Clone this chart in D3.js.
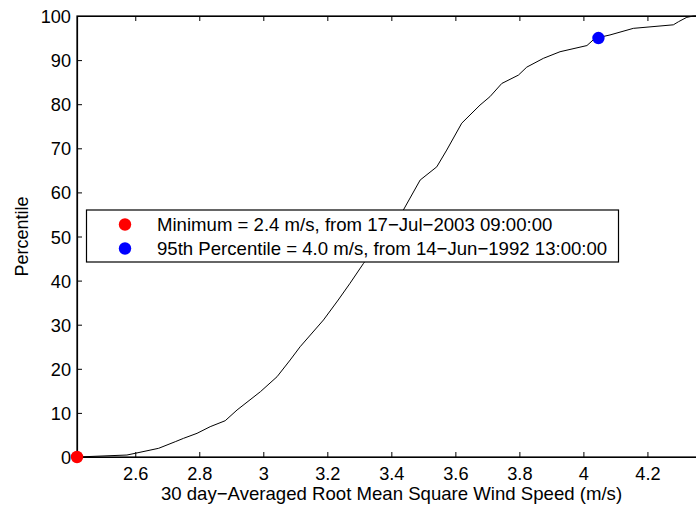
<!DOCTYPE html>
<html>
<head>
<meta charset="utf-8">
<script src="https://cdn.jsdelivr.net/npm/d3@7"></script>
<style>
  html, body { margin: 0; padding: 0; background: #fff; }
  svg { display: block; font-family: "Liberation Sans", Arial, Helvetica, sans-serif; }
</style>
</head>
<body>
<svg id="chart" width="696" height="506"></svg>
<script>
// Cumulative distribution of 30-day averaged RMS wind speed
const speed = [2.418, 2.574, 2.600, 2.673, 2.725, 2.751, 2.793, 2.834, 2.881, 2.918,
  2.991, 3.043, 3.084, 3.115, 3.188, 3.234, 3.271, 3.313, 3.4375, 3.490,
  3.542, 3.573, 3.620, 3.677, 3.708, 3.745, 3.797, 3.823, 3.875, 3.927, 4.011,
  4.031, 4.047, 4.083, 4.156, 4.281, 4.297, 4.323, 4.344, 4.358];
const percentile = [0, 0.45, 0.84, 1.97, 3.47, 4.24, 5.37, 6.87, 8.23, 10.66,
  14.81, 18.21, 22.0, 25.0, 31.07, 35.6, 39.4, 43.9, 56.0, 62.8,
  65.8, 69.6, 75.7, 79.8, 81.7, 84.7, 86.6, 88.4, 90.4, 91.9, 93.3,
  94.6, 95.1, 95.7, 97.2, 98.0, 98.7, 99.7, 100, 100];

const xTicks = [2.6, 2.8, 3, 3.2, 3.4, 3.6, 3.8, 4, 4.2];
const yTicks = [0, 10, 20, 30, 40, 50, 60, 70, 80, 90, 100];

// Highlighted points: minimum and 95th percentile
const markerNames = ["Minimum", "95th Percentile"];
const markerSpeed = [2.418, 4.047];
const markerPct = [0, 95];
const markerDates = ["17\u2212Jul\u22122003 09:00:00", "14\u2212Jun\u22121992 13:00:00"];
const markerColors = ["#ff0000", "#0000ff"];

const xLabel = "30 day\u2212Averaged Root Mean Square Wind Speed (m/s)";
const yLabel = "Percentile";

const svg = d3.select("#chart");
const box = { left: 77, top: 16, right: 698, bottom: 457 };

const x = d3.scaleLinear().domain([2.418, 4.358]).range([box.left, box.right]);
const y = d3.scaleLinear().domain([0, 100]).range([box.bottom, box.top]);

const tickFont = 18.2;
const labelFont = 18.6;
const tickLen = 5;

// Plot box
svg.append("rect")
  .attr("x", box.left).attr("y", box.top)
  .attr("width", box.right - box.left).attr("height", box.bottom - box.top)
  .attr("fill", "none").attr("stroke", "#000").attr("stroke-width", 1.2);

// Axes with inward ticks
const axisBottomG = svg.append("g").attr("transform", `translate(0,${box.bottom})`)
  .call(d3.axisBottom(x).tickValues(xTicks).tickSizeInner(-tickLen).tickSizeOuter(0)
    .tickPadding(10).tickFormat(d3.format("")));
const axisTopG = svg.append("g").attr("transform", `translate(0,${box.top})`)
  .call(d3.axisTop(x).tickValues(xTicks).tickSizeInner(-tickLen).tickSizeOuter(0).tickFormat(""));
const axisLeftG = svg.append("g").attr("transform", `translate(${box.left},0)`)
  .call(d3.axisLeft(y).tickValues(yTicks).tickSizeInner(-tickLen).tickSizeOuter(0)
    .tickPadding(tickLen + 1).tickFormat(d3.format("")));

[axisBottomG, axisTopG, axisLeftG].forEach(g => {
  g.select(".domain").attr("stroke", "#000").attr("stroke-width", 1.2);
  g.selectAll(".tick line").attr("stroke", "#000").attr("stroke-width", 1);
  g.selectAll("text").attr("font-size", tickFont).attr("fill", "#000")
    .attr("font-family", "'Liberation Sans', Arial, sans-serif");
});
axisLeftG.selectAll("text").attr("dy", "0.36em");

// CDF curve
const line = d3.line().x((d, i) => x(speed[i])).y((d, i) => y(percentile[i]));
svg.append("path")
  .datum(speed)
  .attr("d", line)
  .attr("fill", "none").attr("stroke", "#000").attr("stroke-width", 1);

// Highlighted points
svg.selectAll("circle.marker")
  .data(markerSpeed)
  .join("circle")
  .attr("class", "marker")
  .attr("cx", d => x(d))
  .attr("cy", (d, i) => y(markerPct[i]))
  .attr("r", 6.2)
  .attr("fill", (d, i) => markerColors[i]);

// Axis labels
svg.append("text")
  .attr("x", 391.5).attr("y", 500)
  .attr("text-anchor", "middle").attr("font-size", labelFont)
  .text(xLabel);
svg.append("text")
  .attr("transform", `translate(28,${(box.top + box.bottom) / 2}) rotate(-90)`)
  .attr("text-anchor", "middle").attr("font-size", 18)
  .text(yLabel);

// Legend
const fmt = d3.format(".1f");
const legend = svg.append("g");
legend.append("rect")
  .attr("x", 86.5).attr("y", 210).attr("width", 532).attr("height", 52)
  .attr("fill", "#fff").attr("stroke", "#000").attr("stroke-width", 1.2);
markerNames.forEach((name, i) => {
  const cy = 224.5 + i * 24;
  legend.append("circle").attr("cx", 125).attr("cy", cy).attr("r", 6.2)
    .attr("fill", markerColors[i]);
  legend.append("text").attr("x", 157).attr("y", cy).attr("dy", "0.35em")
    .attr("font-size", labelFont)
    .text(`${name} = ${fmt(markerSpeed[i])} m/s, from ${markerDates[i]}`);
});
</script>
</body>
</html>
